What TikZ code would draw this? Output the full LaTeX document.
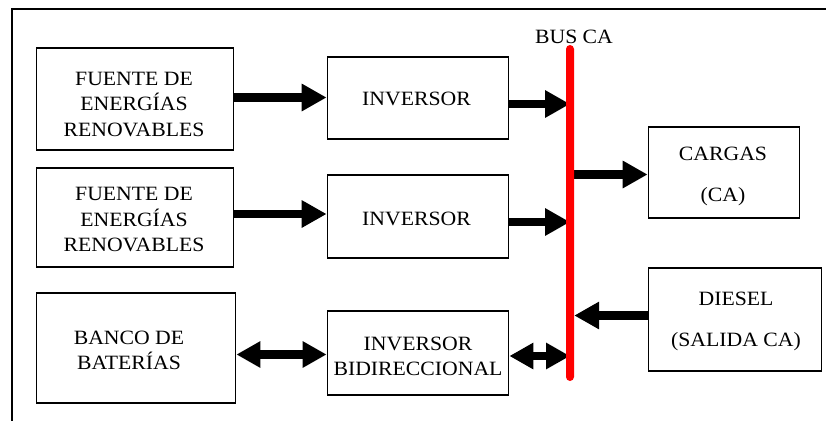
\documentclass[tikz,border=0pt]{standalone}
\usepackage{fontspec}
\setmainfont{Liberation Serif}[FakeStretch=1.07]
\usetikzlibrary{arrows.meta,calc,backgrounds}
\tikzset{
  blk/.style={draw, line width=1.8pt, inner sep=0pt},
  lbl/.style={inner sep=0pt, align=center, anchor=north,
              font=\fontsize{20.3}{25.5}\selectfont},
  arr/.style={line width=8.5pt, -{Triangle[length=25pt,width=26pt]}},
  darr/.style={line width=8.5pt,
               {Triangle[length=24pt,width=25pt]}-{Triangle[length=24pt,width=25pt]}},
  frameline/.style={line width=2.2pt},
  busbar/.style={fill=red, rounded corners=4pt, minimum width=8pt,
                 minimum height=336pt, inner sep=0pt},
}
\begin{document}
\begin{tikzpicture}[x=1pt,y=-1pt]
\useasboundingbox (0,0) rectangle (826,421);

% outer frame (top and left edges)
\draw[frameline] (826,9) -- (12,9) -- (12,421);

% blocks
\node[blk, minimum width=197pt, minimum height=102pt] (f1) at (135,99) {};
\node[blk, minimum width=181pt, minimum height=82pt] (inv1) at (418,98) {};
\node[blk, minimum width=197pt, minimum height=99pt] (f2) at (135,217.5) {};
\node[blk, minimum width=181pt, minimum height=83pt] (inv2) at (418,216.5) {};
\node[blk, minimum width=199pt, minimum height=110pt] (banco) at (136,348) {};
\node[blk, minimum width=181pt, minimum height=84pt] (invb) at (418,353) {};
\node[blk, minimum width=151pt, minimum height=91pt] (cargas) at (724,172.5) {};
\node[blk, minimum width=173pt, minimum height=103pt] (diesel) at (735,319.5) {};

% block texts
\node[lbl] (f1t) at (134,71.7) {FUENTE DE\\ENERGÍAS\\RENOVABLES};
\node[lbl] (inv1t) at (416.5,91.7) {INVERSOR};
\node[lbl] (f2t) at (134,187) {FUENTE DE\\ENERGÍAS\\RENOVABLES};
\node[lbl] (inv2t) at (416.5,211.7) {INVERSOR};
\node[lbl] (bancot) at (129,330.7) {BANCO DE\\BATERÍAS};
\node[lbl] (invbt) at (418,336.7) {INVERSOR\\BIDIRECCIONAL};
\node[lbl] (cargast) at (723,147.3) {CARGAS\\[15.5pt](CA)};
\node[lbl] (dieselt) at (736,291.7) {DIESEL\\[15.5pt](SALIDA CA)};
\node[lbl] (busct) at (574,30) {BUS CA};

% AC bus bar (drawn above the arrows, which sit on the background layer)
\node[busbar] (bus) at (570,213) {};

% connection points
\coordinate (c1) at ($(f1.east)+(0,-1.5)$);
\coordinate (c2) at ($(inv1.east)+(0,6)$);
\coordinate (c3) at ($(f2.east)+(0,-3.5)$);
\coordinate (c4) at ($(inv2.east)+(0,5.5)$);
\coordinate (c5) at ($(cargas.west)+(0,2)$);
\coordinate (c6) at ($(diesel.west)+(0,-4)$);
\coordinate (c7) at ($(banco.east)+(0,6.5)$);
\coordinate (c8) at ($(invb.east)+(0,3)$);

% power flows
\begin{scope}[on background layer]
\draw[arr] (c1) -- (c1 -| inv1.west);
\draw[arr] (c2) -- (c2 -| bus.center);
\draw[arr] (c3) -- (c3 -| inv2.west);
\draw[arr] (c4) -- (c4 -| bus.center);
\draw[arr] (c5 -| bus.center) -- (c5);
\draw[arr] (c6) -- (c6 -| bus.east);
\draw[darr] (c7) -- (c7 -| invb.west);
\draw[darr] (c8) -- (c8 -| bus.center);
\end{scope}
\end{tikzpicture}
\end{document}
